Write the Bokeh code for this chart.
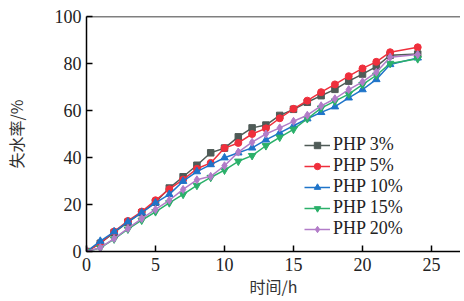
from bokeh.plotting import figure
from bokeh.models import Span, FixedTicker, Legend, LegendItem
from bokeh.embed import file_html
from bokeh.resources import INLINE

hours = [0, 1, 2, 3, 4, 5, 6, 7, 8, 9, 10, 11, 12, 13, 14, 15, 16, 17, 18, 19, 20, 21, 22, 24]

php3 = [0, 3.5, 8.0, 12.5, 16.5, 21.0, 27.0, 31.8, 36.7, 42.0, 44.0, 48.8, 52.6, 53.8, 57.9, 60.5, 63.5, 66.3, 69.0, 72.5, 75.5, 78.7, 83.5, 84.0]
php5 = [0, 3.5, 8.5, 13.0, 17.0, 21.8, 26.5, 30.6, 35.2, 37.7, 44.0, 46.2, 50.0, 52.4, 56.7, 60.7, 64.2, 67.8, 71.1, 74.6, 77.9, 80.7, 84.8, 86.9]
php10 = [0, 4.4, 8.4, 12.6, 16.5, 20.7, 24.3, 29.9, 34.0, 37.0, 39.9, 42.0, 44.1, 47.5, 50.5, 53.5, 56.5, 59.2, 61.6, 65.4, 68.9, 73.2, 79.6, 82.4]
php15 = [0, 1.5, 5.3, 9.5, 13.3, 16.9, 20.7, 24.3, 28.1, 31.5, 34.6, 38.4, 40.8, 45.0, 48.6, 52.0, 56.5, 61.0, 64.0, 67.0, 71.0, 75.0, 80.0, 82.0]
php20 = [0, 1.6, 5.5, 9.8, 14.0, 17.9, 21.8, 26.4, 30.5, 32.0, 36.5, 42.3, 46.5, 50.0, 52.6, 55.4, 58.0, 62.0, 65.0, 68.9, 72.2, 76.3, 82.7, 83.8]

labels = ["PHP 3%", "PHP 5%", "PHP 10%", "PHP 15%", "PHP 20%"]
series = [php3, php5, php10, php15, php20]
colors = ["#4f5b57", "#ef2f3c", "#1f74c9", "#2bb06a", "#b27cc8"]
markers = ["square", "circle", "triangle", "inverted_triangle", "diamond"]
sizes = [6.5, 7, 7.5, 7.5, 8]

x_ticks = [0, 5, 10, 15, 20, 25]
y_ticks = [0, 20, 40, 60, 80, 100]

p = figure(width=460, height=300, output_backend="svg", toolbar_location=None,
           x_range=(0, 27.1), y_range=(0, 100),
           min_border_left=86, min_border_right=0, min_border_top=16, min_border_bottom=0)
p.outline_line_color = None
p.grid.visible = False
p.background_fill_color = "white"

serif = "serif"
for ax in (p.xaxis[0], p.yaxis[0]):
    ax.axis_line_color = "black"
    ax.axis_line_width = 1.5
    ax.major_tick_line_color = "black"
    ax.major_tick_line_width = 1.5
    ax.major_tick_in = 6
    ax.major_tick_out = 0
    ax.minor_tick_line_color = None
    ax.major_label_text_font = serif
    ax.major_label_text_font_size = "18px"
    ax.major_label_text_color = "#222222"
    ax.axis_label_text_font = "Noto Sans CJK SC"
    ax.axis_label_text_font_size = "16px"
    ax.axis_label_text_font_style = "normal"
    ax.axis_label_text_color = "#333333"

p.xaxis.ticker = FixedTicker(ticks=x_ticks)
p.yaxis.ticker = FixedTicker(ticks=y_ticks)
p.xaxis.major_label_standoff = 6
p.yaxis.major_label_standoff = 5
p.xaxis.axis_label = "时间/h"
p.yaxis.axis_label = "失水率/%"
p.xaxis.axis_label_standoff = 0
p.yaxis.axis_label_standoff = 24

p.add_layout(Span(location=100, dimension="width", line_color="black", line_width=1.5))

items = []
for lab, ys, c, m, s in zip(labels, series, colors, markers, sizes):
    l = p.line(hours, ys, line_color=c, line_width=1.5)
    sc = p.scatter(hours, ys, marker=m, size=s, fill_color=c, line_color=c)
    items.append(LegendItem(label=lab, renderers=[l, sc]))

legend = Legend(items=items, location=(218, 12), border_line_color=None,
                background_fill_alpha=0, padding=0, margin=0, spacing=0,
                glyph_width=26, glyph_height=16, label_height=16,
                label_standoff=3, label_text_font=serif,
                label_text_font_size="18px", label_text_color="#222222")
p.add_layout(legend, "center")

open("out.html", "w").write(file_html(p, INLINE))
